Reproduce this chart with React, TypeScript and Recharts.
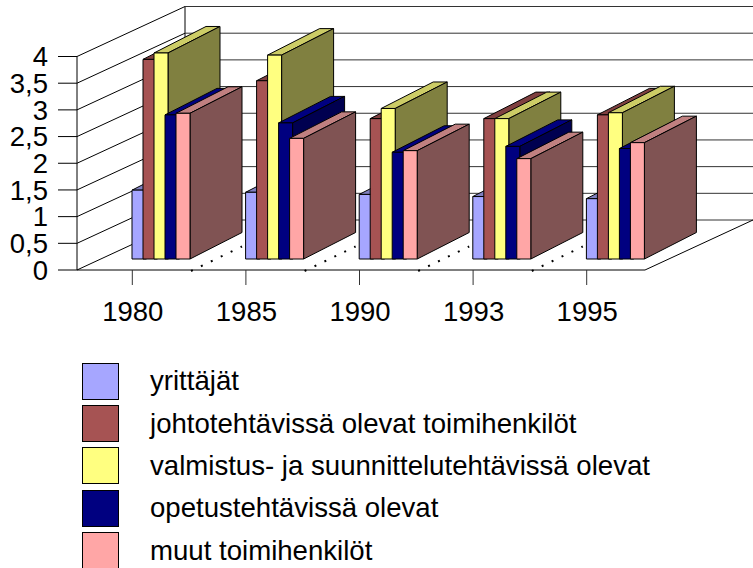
import { BarChart, Bar, XAxis, YAxis, CartesianGrid, Legend } from "recharts";

const years = ["1980", "1985", "1990", "1993", "1995"];
const yrittajat = [1.29, 1.25, 1.21, 1.17, 1.13];
const johto = [3.74, 3.34, 2.63, 2.63, 2.7];
const valmistus = [3.86, 3.82, 2.82, 2.63, 2.74];
const opetus = [2.7, 2.55, 2.0, 2.11, 2.07];
const muut = [2.73, 2.26, 2.03, 1.88, 2.18];
const yTicks = [0, 0.5, 1, 1.5, 2, 2.5, 3, 3.5, 4];

const data = years.map((year, i) => ({
  year,
  yrittajat: yrittajat[i],
  johto: johto[i],
  valmistus: valmistus[i],
  opetus: opetus[i],
  muut: muut[i],
}));

const FONT = "'Liberation Sans', Arial, sans-serif";
const WALL_DX = 108;
const WALL_DY = 50;
const BAR_DX = 52;
const BAR_DY = 26.5;
const SHIFT_X = 27;
const SHIFT_Y = -11;
const PLOT_H = 213.5;

// front, top and side colours of each 3d bar
function barShape(top: string, side: string, floorDots = false) {
  return (props: any) => {
    const { x, y, width, height, fill, index } = props;
    const l = x + SHIFT_X;
    const r = l + width;
    const t = y + SHIFT_Y;
    const b = t + height;
    return (
      <g stroke="#000" strokeWidth={1} strokeLinejoin="round">
        <polygon points={`${l},${t} ${l + BAR_DX},${t - BAR_DY} ${r + BAR_DX},${t - BAR_DY} ${r},${t}`} fill={top} />
        <polygon points={`${r},${t} ${r + BAR_DX},${t - BAR_DY} ${r + BAR_DX},${b - BAR_DY} ${r},${b}`} fill={side} />
        <rect x={l} y={t} width={width} height={height} fill={fill} />
        {floorDots && index < years.length - 1 && (
          <line x1={r + 1} y1={b + 12} x2={r + BAR_DX} y2={b - 12.5} strokeWidth={2} strokeDasharray="2 9" />
        )}
      </g>
    );
  };
}

function wallLine(props: any) {
  const { x1, y1, x2, index } = props;
  const first = index === 0;
  const floorY = first && y1 < 100 ? y1 + PLOT_H : y1;
  return (
    <g key={`wall-${index}`} stroke="#000" strokeWidth={1} fill="none">
      <line x1={x1} y1={y1} x2={x1 + WALL_DX} y2={y1 - WALL_DY} />
      <line x1={x1 + WALL_DX} y1={y1 - WALL_DY} x2={x2 + WALL_DX} y2={y1 - WALL_DY} stroke="#333" />
      {first && (
        <g>
          <line x1={x1 + WALL_DX} y1={floorY - WALL_DY} x2={x1 + WALL_DX} y2={floorY - WALL_DY - PLOT_H} />
          <line x1={x2} y1={floorY} x2={x2 + WALL_DX} y2={floorY - WALL_DY} />
        </g>
      )}
    </g>
  );
}

function YearTick(props: any) {
  const { x, y, payload } = props;
  return (
    <g>
      <line x1={x - 1.5} y1={y} x2={x - 1.5} y2={y + 15} stroke="#333" />
      <text x={x - 1} y={y + 51} textAnchor="middle" fontSize={27.5} fontFamily={FONT} fill="#000">
        {payload.value}
      </text>
    </g>
  );
}

function LegendBox(props: any) {
  return (
    <div style={{ fontFamily: FONT, fontSize: 27.6, color: "#000" }}>
      {props.payload.map((item: any) => (
        <div key={item.value} style={{ display: "flex", alignItems: "center", height: 42.4 }}>
          <div style={{ width: 35, height: 35, background: item.color, border: "1px solid #000", marginRight: 31 }} />
          <span style={{ whiteSpace: "nowrap" }}>{item.value}</span>
        </div>
      ))}
    </div>
  );
}

export default function App() {
  return (
    <div style={{ position: "absolute", left: 0, top: 0, width: 753, height: 568, overflow: "hidden", background: "#fff" }}>
      <BarChart
        width={753}
        height={568}
        data={data}
        barSize={14}
        barGap={-3}
        margin={{ top: 56.5, right: 108, bottom: 0, left: 0 }}
      >
        <CartesianGrid vertical={false} horizontal={wallLine} />
        <XAxis
          dataKey="year"
          height={298}
          stroke="#000"
          tickLine={false}
          tickSize={0}
          tickMargin={0}
          tick={YearTick}
          interval={0}
        />
        <YAxis
          width={77}
          domain={[0, 4]}
          ticks={yTicks}
          stroke="#000"
          tickSize={19}
          tickMargin={10}
          tickFormatter={(v: number) => String(v).replace(".", ",")}
          tick={{ fontSize: 27.5, fontFamily: FONT, fill: "#000" }}
          interval={0}
        />
        <Bar dataKey="yrittajat" name="yrittäjät" fill="#A6A6FF" shape={barShape("#8080C0", "#535380")} isAnimationActive={false} />
        <Bar dataKey="johto" name="johtotehtävissä olevat toimihenkilöt" fill="#A65353" shape={barShape("#804040", "#532929")} isAnimationActive={false} />
        <Bar dataKey="valmistus" name="valmistus- ja suunnittelutehtävissä olevat" fill="#FFFF80" shape={barShape("#CCCC66", "#808040")} isAnimationActive={false} />
        <Bar dataKey="opetus" name="opetustehtävissä olevat" fill="#000080" shape={barShape("#000080", "#000050")} isAnimationActive={false} />
        <Bar dataKey="muut" name="muut toimihenkilöt" fill="#FFA6A6" shape={barShape("#C08080", "#805353", true)} isAnimationActive={false} />
        <Legend
          layout="vertical"
          align="center"
          verticalAlign="middle"
          itemSorter={null}
          content={LegendBox}
          wrapperStyle={{ left: 82, top: 360, width: 660 }}
        />
      </BarChart>
    </div>
  );
}
